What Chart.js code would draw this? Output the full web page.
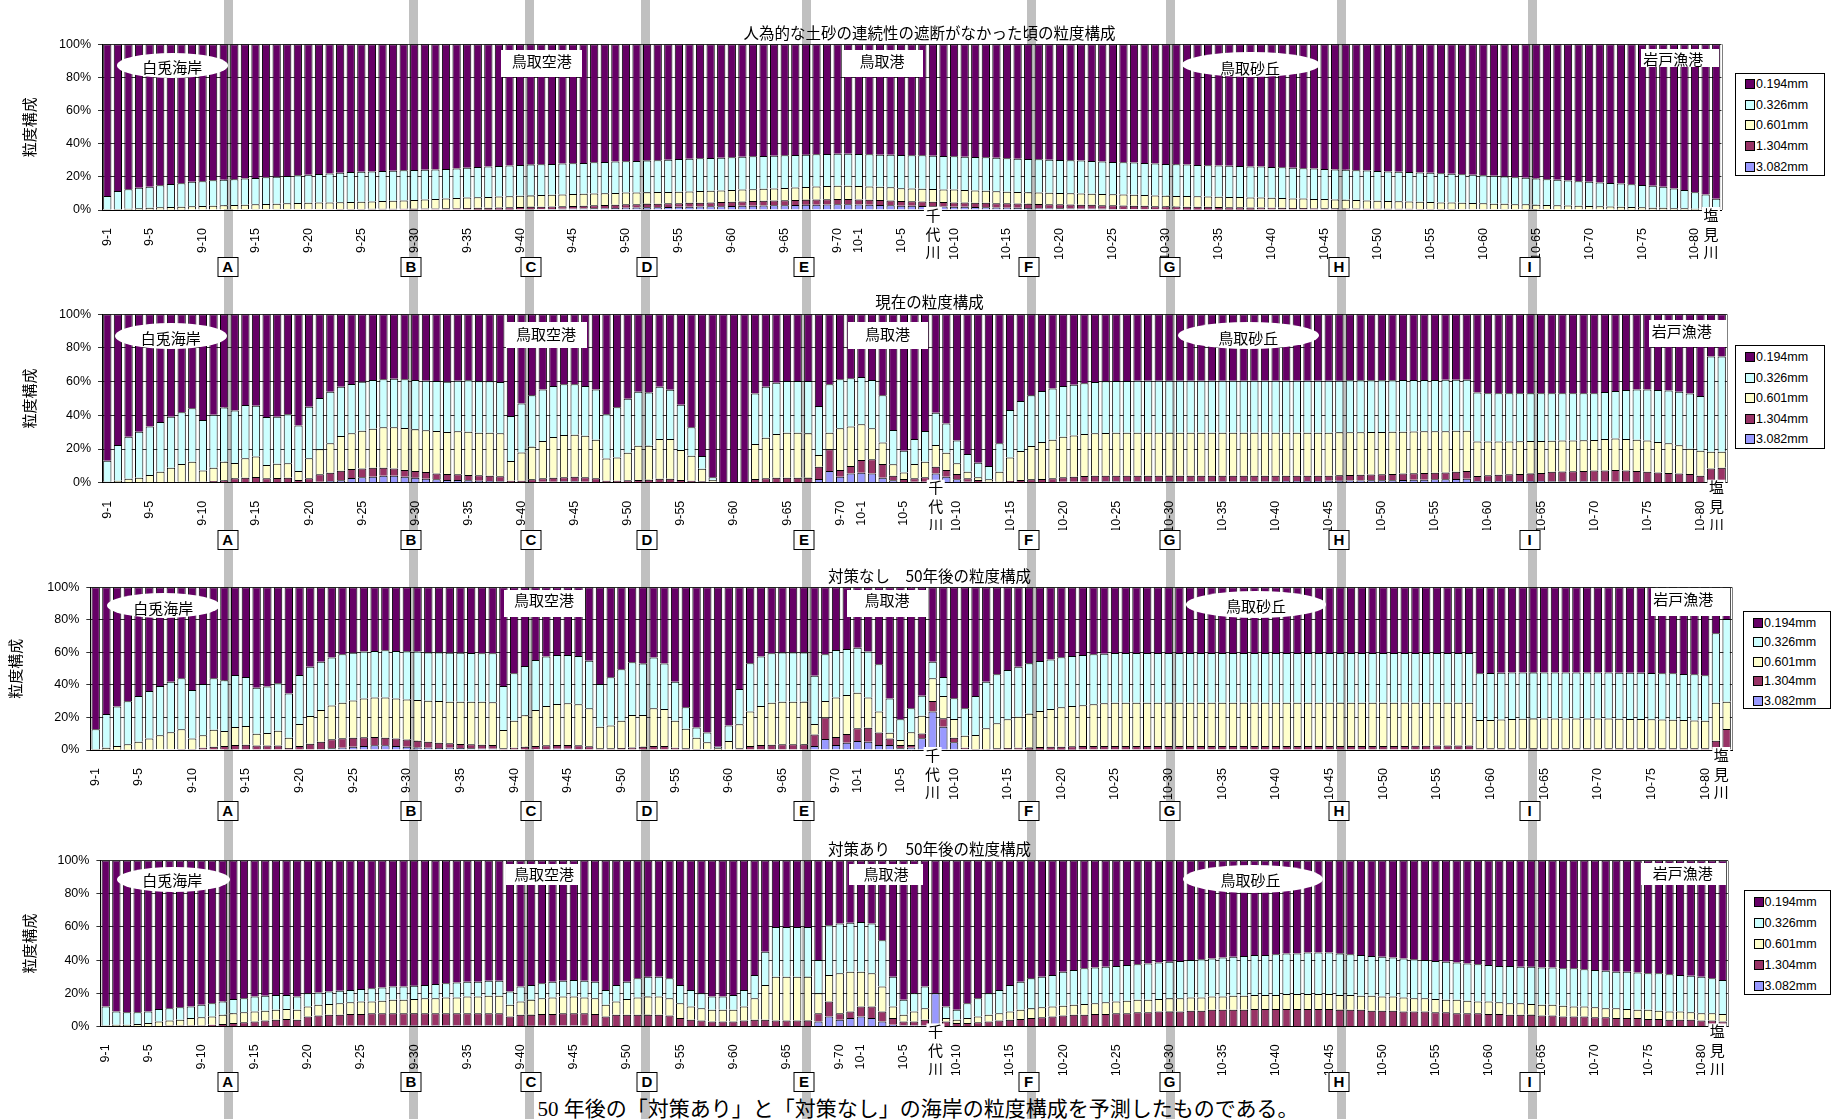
<!DOCTYPE html>
<html>
<head>
<meta charset="utf-8">
<script src="https://cdn.jsdelivr.net/npm/chart.js@4.4.1/dist/chart.umd.min.js"></script>
<style>
  html, body { margin: 0; padding: 0; background: #fff; }
  #page { position: relative; width: 1831px; height: 1119px; overflow: hidden; background: #fff; }
  .band { position: absolute; top: 0; height: 1119px; width: 9px; background: #c0c0c0; z-index: 0; }
  canvas.plot { position: absolute; left: 0; z-index: 1; }
  .shape { position: absolute; background: #fff; z-index: 2; }
  .shape.ellipse { border-radius: 50%; }
  .anno { position: absolute; z-index: 3; transform: translate(-50%, -50%); white-space: nowrap;
          font: 15px "Noto Sans CJK JP", sans-serif; color: #000; line-height: 1; }
  .legend { position: absolute; z-index: 2; background: #fff; border: 1px solid #000; box-sizing: border-box;
            font: 12.5px "Liberation Sans", Arial, sans-serif; color: #000; }
  .legend .row { position: absolute; left: 9px; height: 14px; line-height: 14px; transform: translateY(-50%); white-space: nowrap; }
  .legend .sw { display: inline-block; width: 8px; height: 8px; border: 1px solid #000; vertical-align: -1px; margin-right: 1px; }
  .mark { position: absolute; z-index: 3; width: 21px; height: 20px; box-sizing: border-box; border: 1px solid #000; background: #fff;
          font: bold 15px "Liberation Sans", Arial, sans-serif; text-align: center; line-height: 18px; transform: translate(-50%, -50%); }
  .caption { position: absolute; z-index: 3; left: 918px; top: 1107px; transform: translate(-50%, -50%); white-space: nowrap;
             font: 21px "Liberation Serif", "Noto Sans CJK JP", serif; color: #000; }
</style>
</head>
<body>
<div id="page"></div>
<script>
// ---- categories (survey lines along the coast) ----
const categories = [
  '9-1','9-2','9-3','9-4','9-5','9-6','9-7','9-8','9-9','9-10',
  '9-11','9-12','9-13','9-14','9-15','9-16','9-17','9-18','9-19','9-20',
  '9-21','9-22','9-23','9-24','9-25','9-26','9-27','9-28','9-29','9-30',
  '9-31','9-32','9-33','9-34','9-35','9-36','9-37','9-38','9-39','9-40',
  '9-41','9-42','9-43','9-44','9-45','9-46','9-47','9-48','9-49','9-50',
  '9-51','9-52','9-53','9-54','9-55','9-56','9-57','9-58','9-59','9-60',
  '9-61','9-62','9-63','9-64','9-65','9-66','9-67','9-68','9-69','9-70','9-71',
  '10-1','10-2','10-3','10-4','10-5','10-6','10-7','10-8','10-9','10-10',
  '10-11','10-12','10-13','10-14','10-15','10-16','10-17','10-18','10-19','10-20',
  '10-21','10-22','10-23','10-24','10-25','10-26','10-27','10-28','10-29','10-30',
  '10-31','10-32','10-33','10-34','10-35','10-36','10-37','10-38','10-39','10-40',
  '10-41','10-42','10-43','10-44','10-45','10-46','10-47','10-48','10-49','10-50',
  '10-51','10-52','10-53','10-54','10-55','10-56','10-57','10-58','10-59','10-60',
  '10-61','10-62','10-63','10-64','10-65','10-66','10-67','10-68','10-69','10-70',
  '10-71','10-72','10-73','10-74','10-75','10-76','10-77','10-78','10-79','10-80','10-81','10-82'
];

// categories whose name is printed under the axis
const tickLabels = [
  '9-1','9-5','9-10','9-15','9-20','9-25','9-30','9-35','9-40','9-45','9-50','9-55','9-60','9-65','9-70',
  '10-1','10-5','10-10','10-15','10-20','10-25','10-30','10-35','10-40','10-45','10-50','10-55','10-60',
  '10-65','10-70','10-75','10-80'
];

const grainSizes = ['0.194mm','0.326mm','0.601mm','1.304mm','3.082mm'];

// Each chart: upper edge (%) of each band, coarsest band first.
// xxx3082 = top of 3.082mm band, xxx1304 = top of 1.304mm band, etc.; 0.194mm fills up to 100%.

// -- before sediment supply was cut off --
const pre3082 = [
  0,0,0,0,0,0,0,0,0,0, 0,0,0,0,0,0,0,0,0,0, 0,0,0,0,0,0,0,0,0,0,
  0,0,0,0,0,0.1,0.1,0.2,0.2,0.3, 0.4,0.5,0.6,0.7,0.8,0.9,1,1.1,1.2,1.4,
  1.5,1.6,1.7,1.8,1.9,2,2.1,2.2,2.3,2.4, 2.5,2.6,2.7,2.8,2.9,3,3.1,3.2,3.3,3.4,3.4,
  3.3,3.2,3,2.8,2.6,2.5,2.4,2.2,2.1,2, 1.9,1.8,1.6,1.5,1.4,1.3,1.2,1.1,1.1,1,
  0.9,0.8,0.8,0.7,0.6,0.5,0.5,0.4,0.4,0.3, 0.3,0.2,0.2,0.2,0.1,0.1,0.1,0.1,0,0,
  0,0,0,0,0,0,0,0,0,0, 0,0,0,0,0,0,0,0,0,0, 0,0,0,0,0,0,0,0,0,0,
  0,0,0,0,0,0,0,0,0,0,0,0
];
const pre1304 = [
  0.1,0.1,0.1,0.1,0.2,0.2,0.2,0.2,0.3,0.3, 0.3,0.3,0.3,0.4,0.4,0.4,0.4,0.4,0.5,0.5,
  0.5,0.5,0.6,0.6,0.6,0.7,0.7,0.7,0.8,0.8, 0.9,0.9,1,1.1,1.2,1.3,1.4,1.5,1.6,1.8,
  1.9,2,2.1,2.3,2.4,2.6,2.8,3,3.2,3.4, 3.5,3.7,3.8,4,4.1,4.3,4.4,4.6,4.8,5,
  5.2,5.4,5.6,5.7,5.9,6,6.2,6.3,6.5,6.6,6.6,
  6.4,6.2,6,5.8,5.4,5.3,5.1,5,4.8,4.6, 4.5,4.4,4.3,4.1,4,3.9,3.8,3.6,3.5,3.4,
  3.3,3.2,3.1,2.9,2.8,2.7,2.6,2.5,2.3,2.2, 2.1,2,1.9,1.9,1.8,1.7,1.6,1.5,1.5,1.4,
  1.3,1.2,1.2,1.1,1,1,0.9,0.9,0.8,0.8, 0.7,0.7,0.7,0.6,0.6,0.6,0.6,0.5,0.5,0.5,
  0.5,0.4,0.4,0.4,0.4,0.4,0.3,0.3,0.3,0.3, 0.3,0.3,0.2,0.2,0.2,0.2,0.2,0.1,0.1,0.1,0.1,0.1
];
const pre0601 = [
  0.3,0.5,0.7,1,1.4,1.6,1.8,2,2.2,2.4, 2.6,2.8,3,3.2,3.4,3.6,3.8,4,4.2,4.4,
  4.5,4.6,4.7,4.8,5,5.2,5.4,5.6,5.8,6, 6.3,6.6,7,7.3,7.5,7.7,7.9,8.1,8.3,8.6,
  8.8,9,9.2,9.4,9.6,9.8,10,10.1,10.3,10.5, 10.6,10.7,10.8,10.9,11,11.2,11.4,11.6,11.8,12,
  12.3,12.5,12.8,13,13.3,13.6,13.9,14.2,14.5,14.7,14.7,
  14.5,14.2,14,13.7,13.2,13,12.8,12.6,12.4,12.3, 12.1,11.8,11.6,11.3,11,10.9,10.7,10.6,10.4,10.3,
  10.1,10,9.8,9.7,9.5,9.3,9.2,9,8.8,8.6, 8.5,8.4,8.3,8.1,8,7.9,7.8,7.6,7.5,7.4,
  7.2,7,6.9,6.7,6.6,6.4,6.2,6,5.8,5.6, 5.4,5.3,5.1,5,4.8,4.6,4.5,4.3,4.2,4,
  3.8,3.7,3.5,3.4,3.2,3,2.9,2.7,2.6,2.4, 2.2,2.1,1.9,1.8,1.6,1.4,1.3,1.1,1,0.8,0.6,0.4
];
const pre0326 = [
  8.5,11.5,12.5,13.5,14,15,15.7,16.2,17,17.3, 18,18.3,18.6,19,19.3,19.7,20,20.5,21,21.3,
  21.7,22,22.5,23,23.1,23.3,23.5,23.7,24,24.1, 24.3,24.5,24.7,25,25.5,26,26.2,26.5,26.8,27.2,
  27.4,27.6,27.8,28,28.2,28.4,28.8,29,29.2,29.4, 29.6,29.8,30,30.4,30.8,31,31.2,31.4,31.6,31.8,
  32.2,32.4,32.6,32.8,33,33.2,33.4,33.6,33.8,34,34,
  33.8,33.6,33.4,33.3,33.2,33.1,33,32.8,32.6,32.4, 32.2,32,31.8,31.5,31.2,31,30.8,30.6,30.4,30.2,
  30,29.8,29.5,29.3,29,28.8,28.6,28.4,28.1,27.8, 27.6,27.4,27.2,27,26.8,26.7,26.5,26.3,26.2,26,
  25.8,25.5,25.2,25,24.7,24.5,24.3,24,23.8,23.5, 23.3,23.1,22.9,22.7,22.5,22.2,21.9,21.6,21.3,21,
  20.6,20.2,19.8,19.4,19,18.6,18.2,17.8,17.4,17, 16.6,16.3,16,15.5,15.1,14.7,14,13,12,10.7,9.3,6.8
];

// -- present --
const now3082 = [
  0,0,0,0,0,0,0,0,0,0, 0,0,0,0,0,0,0,0,0,0,
  0.5,1,1.5,2.8,3.2,3.6,4.2,4.2,3.6,3, 2.4,2,1.6,1.6,1.4,1.2,1,0.8,0,0,
  0.4,0.6,0.6,0.8,0.8,0.6,0.2,0,0,0, 0,0,0,0,0,0,0,0,0,0,
  0,0,0,0,0,0,0,2.2,6.9,3.6,5.5,
  5.9,5.5,3,1.5,0.4,0.5,0.5,5.5,3.6,2, 0.5,0,0,0,0,0,0.2,0.3,0.4,0.5,
  0.5,0.6,0.6,0.8,0.8,0.8,0.8,0.8,0.8,0.8, 0.8,0.8,0.8,0.8,0.9,0.9,0.9,0.9,0.9,0.9,
  1,1,1,1,1.2,1.2,1.3,1.3,1.4,1.4, 1.5,1.6,1.7,1.8,2,2.1,2.2,2.4,1,1,
  1,1,1,1,1,0.9,0.9,0.9,0.8,0.8, 0.6,0.5,0.5,0.4,0.4,0.3,0.3,0.2,0.2,0.1,0,0
];
const now1304 = [
  0.3,0.3,0.3,0.3,0.3,0.4,0.4,0.5,0.6,0.5, 1,1.5,2.6,3,3.4,2.6,2.8,3,1.6,2.6,
  5,5.9,7.1,8.1,8.5,8.9,8.9,8.5,7.5,6.9, 6.3,5.5,5.1,5,4.6,4.4,4.2,3.8,1.2,1.2,
  2,2.6,3,3.2,3.6,3.2,2.6,1.2,1.2,1.4, 1.6,1.8,2.4,2.4,1.6,1.2,0.8,0.6,0,0,
  0,2.2,2.6,3,3,3,3,9.5,19.8,7.5,9.9,
  13.5,13.9,11.1,4.2,2.2,2.6,3.2,9.5,7.5,5.1, 2.6,1.6,0.5,0.5,1,1.6,2,2.2,2.6,3.2,
  3.6,4,4.2,4.2,4.2,4.2,4.2,4.2,4.2,4.2, 4.2,4.2,4.2,4.2,4.2,4.2,4.2,4.2,4.2,4.2,
  4.2,4.2,4.2,4.2,4.2,4.4,4.5,4.7,4.8,5, 5.2,5.4,5.6,5.8,5.9,6.1,6.5,6.9,4,4.4,
  4.7,5,5.2,5.5,5.7,6.5,6.6,6.8,7,7.3, 7.3,7.5,7.3,6.9,6.5,6.1,5.7,5.5,5.1,4.2,8.5,8.9
];
const now0601 = [
  0.5,1.2,2.4,3,4.6,6.5,8.9,11.1,12.5,7.3, 8.9,12.5,11.7,14.5,15.6,10.5,11.3,11.5,6.9,14.5,
  19.8,23.4,27.7,29.3,30.9,32,32.9,32.9,32.5,31.7, 31.1,30.7,30.1,30.5,30.3,29.7,29.7,29.3,12.9,18,
  21.4,24.8,27.1,28.3,28.5,27.9,25.5,14.3,15,17.8, 22,22,25.9,25.9,19.4,16,8.3,1.6,0,0,
  0,23,26.7,28.9,29.7,29.7,29.3,16.4,29.7,32.3,33.3,
  34.7,32.3,23.8,10.9,6.1,11.1,12.5,22.4,17.8,11.5, 6.5,3.2,2,6.5,14.9,18.8,21.8,24.2,25.5,27.3,
  28.1,28.9,29.3,29.5,29.7,29.7,29.7,29.7,29.7,29.7, 29.7,29.7,29.7,29.7,29.7,29.7,29.7,29.7,29.7,29.7,
  29.7,29.7,29.7,29.7,29.7,29.9,30,30,30.1,30.1, 30.2,30.3,30.4,30.5,30.5,30.6,30.8,30.9,24.4,24.4,
  24.4,24.5,24.6,24.7,24.8,24.9,25,25.1,25.2,25.3, 25.9,26.3,25.9,25.5,25,24.2,23.4,22.2,20.2,19,18.4,18.4
];
const now0326 = [
  13,22.4,27.3,30.3,33.3,36,39.2,41.8,44.2,37.2, 40.4,44.6,42.8,46.1,45.7,39,39.2,40.6,34,45.1,
  50.3,54,57,58.6,60,61,61.4,61.8,61.4,61, 60.6,60.4,60,60.6,60.8,60.2,60.2,59.8,39.6,47.1,
  51.9,55.4,57.4,58.4,58.4,57.4,55.4,40.6,44.8,49.9, 54,53.5,57,55.2,46.3,33,15.8,3.2,0,0,
  0,53,57,59.4,60.4,60.4,60.4,45.5,58.4,61.4,62,
  62.8,61,51.9,31.3,19,25.9,30.7,41.6,35.2,25, 17,11.9,9.9,23.4,43.2,48.5,51.9,54.5,56,57.4,
  58.2,59,59.8,60.2,60.4,60.4,60.6,60.6,60.6,60.6, 60.6,60.6,60.6,60.6,60.6,60.6,60.6,60.6,60.6,60.6,
  60.6,60.6,60.6,60.6,60.6,60.6,60.8,60.8,60.8,60.8, 60.8,61,61,61,61,61.2,61.2,61.2,53.5,53.1,
  53.1,53.1,53.1,53.1,53.1,53.1,53.1,53.1,53.1,53.1, 53.9,54.5,55,55.4,55.4,55,54.7,54,53,51.5,74.9,74.9
];

// -- 50 years later, no countermeasures --
const noact3082 = [
  0,0,0,0,0,0,0,0,0,0, 0,0,0,0,0,0,0,0,0,0,
  0.3,0.6,1,1.4,2,2.5,2.9,2.9,2.5,2, 1.6,1.4,1.2,1.4,1.2,1,0.8,0.8,0,0,
  0.3,0.5,0.6,0.8,0.8,0.6,0.3,0,0,0, 0,0,0,0,0,0,0,0,0,0,
  0,0,0,0,0,0,0,2.5,6.8,3.1,4.5,
  5.5,5.1,3.1,3,1,1.4,7.2,23.6,14.3,4.7, 0.5,0,0,0,0,0,0.1,0.1,0.2,0.2,
  0.2,0.3,0.3,0.3,0.3,0.3,0.3,0.3,0.3,0.3, 0.3,0.3,0.3,0.3,0.3,0.3,0.3,0.3,0.3,0.3,
  0.3,0.3,0.3,0.3,0.3,0.3,0.3,0.3,0.3,0.3, 0.3,0.3,0.3,0.3,0.3,0.3,0.3,0.3,0,0,
  0,0,0,0,0,0,0,0,0,0, 0,0,0,0,0,0,0,0,0,0,0,0
];
const noact1304 = [
  0.1,0.2,0.2,0.2,0.2,0.2,0.3,0.5,0.6,0.6, 1.4,2,2.5,3.1,3.3,2.7,2.7,2.7,1.2,2.5,
  3.9,5.1,6.6,7.2,7.6,7.8,8,7.6,7,6.4, 5.7,5.1,4.5,4.1,3.7,3.5,3.3,3.1,1,1.4,
  2,2.5,2.9,3.1,3.1,2.9,2.3,1,1,1.2, 1.6,2,2.5,2.5,1.4,1,0.6,0.4,0.2,0.3,
  1,2.5,3.1,3.3,3.5,3.5,3.5,9.6,19.9,8,9.8,
  13.3,13.7,10.7,7,3.1,3.1,10.2,30.1,19.5,7.6, 1.4,0.6,0.6,1,1.2,1.4,1.6,1.8,2,2,
  2.3,2.5,2.5,2.5,2.5,2.5,2.5,2.5,2.5,2.5, 2.5,2.5,2.5,2.5,2.5,2.5,2.5,2.5,2.5,2.5,
  2.5,2.5,2.5,2.5,2.4,2.4,2.4,2.4,2.4,2.4, 2.5,2.5,2.6,2.6,2.7,2.7,2.7,2.7,1,1,
  1,1,1,1,1,1,1,1,1,1, 1,1,1,1,1,1,1,1,1,1,5.7,12.9
];
const noact0601 = [
  0.4,1.4,2.5,3.5,5.1,7,9,10.9,12.7,7, 9,12.5,11.7,14.1,14.8,10,10.5,11.9,7.6,16,
  20.9,24.6,27.3,29.1,30.5,31.6,32.2,32.2,31.6,31.1, 30.7,30.3,30.1,29.7,29.7,29.7,29.7,29.3,12.3,18,
  21.3,24.6,27,28.3,28.7,28.1,25.6,14.3,15,18, 21.5,21.5,25.6,25.2,18,13.1,7.6,4.7,1,5.5,
  15.8,23.6,27,29.1,29.7,29.7,29.7,16,30.1,32.2,33.8,
  35.2,32.2,23.6,10.6,6.1,10.9,21.1,44.1,33.2,19.1, 8.8,9.2,13.3,16.4,18.9,20.5,22.3,24,25.2,26.2,
  27,27.5,28.1,28.7,29.1,29.1,29.1,29.1,29.1,29.1, 29.1,29.1,29.1,29.1,29.1,29.1,29.1,29.1,29.1,29.1,
  29.1,29.1,29.1,29.1,29.1,29.1,29.1,29.1,29.1,29.1, 29.1,29.1,29.1,29.1,29.1,29.1,29.1,29.1,18.4,18.4,
  18.8,19.1,19.2,19.3,19.3,19.3,19.3,19.3,19.3,19.3, 19.3,19.2,19.1,19,18.9,18.8,18.6,18.4,18.2,18,29.1,29.7
];
const noact0326 = [
  12.7,22.1,26.8,29.9,33.2,36.3,39.3,42,44.1,36.9, 40.6,44.1,42.8,46.1,44.9,38.3,39.1,41,34.8,46.1,
  51.2,54.3,56.8,58.8,59.8,60.5,60.9,61.3,60.9,60.7, 60.5,60,60,59.8,59.8,59.6,59.4,59.4,39.3,47.1,
  51.6,55.3,57.4,58.4,58.4,57.8,54.9,40.6,44.7,49.6, 53.9,53.1,56.8,53.1,42,26.2,13.9,10.7,2,15,
  37.5,53.3,57.4,59.4,60,60,60,45.7,58.8,61.5,62.1,
  62.9,60.5,52.7,31.6,18.9,25.6,33.4,54.3,44.9,31.8, 25.6,33.2,42,46.5,49.2,51.2,53.3,54.7,55.7,57,
  57.8,58.4,58.8,59.2,59.6,59.6,59.6,59.6,59.6,59.6, 59.6,59.6,59.6,59.6,59.6,59.6,59.6,59.6,59.6,59.6,
  59.6,59.6,59.6,59.6,59.6,59.6,59.6,59.6,59.6,59.6, 59.6,59.6,59.6,59.6,59.6,59.6,59.6,59.6,47.1,47.3,
  47.5,47.7,47.7,47.7,47.7,47.7,47.7,47.7,47.7,47.7, 47.7,47.5,47.5,47.5,47.3,47.1,47.1,46.7,46.5,45.9,71.7,80.5
];

// -- 50 years later, with countermeasures --
const act3082 = [
  0,0,0,0,0,0,0,0,0,0, 0,0,0,0,0,0,0,0,0,0,
  0.3,0.3,0.4,0.4,0.5,0.5,0.5,0.5,0.5,0.5, 0.5,0.5,0.5,0.5,0.5,0.5,0.5,0.5,0.3,0.3,
  0.4,0.4,0.5,0.5,0.5,0.4,0.3,0,0,0, 0,0,0,0,0,0,0,0,0,0,
  0,0,0,0,0,0,0,3,6,4,5,
  6,5,3,1,0.5,0.5,0.5,20,0,0, 0,0,0,0,0,0,0,0,0,0,
  0,0,0,0,0,0,0,0,0,0, 0,0,0,0,0,0,0,0,0,0,
  0,0,0,0,0,0,0,0,0,0, 0,0,0,0,0,0,0,0,0,0,
  0,0,0,0,0,0,0,0,0,0, 0,0,0,0,0,0,0,0,0,0,0,0
];
const act1304 = [
  0.2,0.2,0.2,0.3,0.3,0.3,0.5,0.5,0.5,0.5, 1,1.5,2,2.5,3,3.5,4,4.5,4,6,
  6.5,7,7,7.5,7.5,8,8,8,8,8, 8,8,8,8,8,8,8,8,6,7,
  7,7.5,7.5,8,8,8,7.5,6,7,7, 7,7,7,6.5,5,4,3.5,3,3,3,
  3.5,4,4,3.5,3.5,3.5,3.5,8,15,8,9,
  12,12,9,5,3,3,4,20,3,2, 2,2.5,3,3.5,4,4.5,5,5.5,6,6.5,
  7,7,7.5,7.5,8,8,8.5,8.5,9,9, 9,9.5,9.5,10,10,10,10,10.5,10.5,10.5,
  10.5,10.5,10.5,10.5,10.5,10,10,10,9.5,9.5, 9.5,9,9,9,8.5,8.5,8,8,8,7.5,
  7.5,7,7,7,6.5,6.5,6,6,6,5.5, 5.5,5,5,5,4.5,4.5,4,4,4,3.5,3.5,3
];
const act0601 = [
  0.5,1,1,1.5,2,3,3.5,4,5,5.5, 6,7,8,8.5,9,9.5,10,10.5,10,12,
  13,13.5,14,14.5,15,15,15.5,16,16,16.5, 17,17,17.5,17.5,18,18,18.5,18.5,13,15,
  16,17,17.5,18,18,17.5,17,13,15,16.5, 17.5,18,18,17,14,12,11,10,10,10,
  12,17,25,30,30,30,30,20,31,32,33,
  33,32,24,12,7,9,11,20,5,4, 5,6,7,8,9,10,11,11.5,12,12.5,
  13,13.5,14,14.5,15,15.5,16,16,16.5,17, 17,17.5,17.5,18,18,18.5,18.5,19,19,19,
  19.5,19.5,19.5,19.5,19.5,19,19,18.5,18.5,18, 18,17.5,17,17,16.5,16,16,15.5,15,15,
  14.5,14,14,13.5,13,13,12.5,12,12,11.5, 11,11,10.5,10,10,9.5,9,9,8.5,8,8,7.5
];
const act0326 = [
  12,9,8.5,8.5,9,10.5,11,11.5,12,13, 14,15,16.5,17,18,18.5,19,19,18,20,
  20.5,21,21.5,22,22.5,23,23.5,24,24,24.5, 25,25.5,26,26.5,27,27,27.5,27.5,21,24,
  25,26,27,27.5,28,27.5,27,22,25,27, 29,30,30,29,25,22,20,18,18,19,
  22,31,45,60,60,60,60,40,61,62,62.5,
  63,62,52,30,16,20,24,20,12,10, 14,17,20,22,25,27,29,30,31,33,
  34,35,35.5,36,36.5,37,37.5,38,38.5,39, 39.5,40,40.5,41,41.5,42,42.5,43,43,43.5,
  44,44,44.5,44.5,44.5,44,43.5,43,42.5,42, 41.5,41,40.5,40,39.5,39,38.5,38,37.5,37,
  36.5,36.5,36,36,35.5,35.5,35,35,34.5,34, 33.5,33,33,32.5,32,32,31.5,31,30.5,30,29,28
];

// ---- styling / layout ----
const FILL = { '0.194mm':'#660066', '0.326mm':'#ccffff', '0.601mm':'#ffffcc', '1.304mm':'#993366', '3.082mm':'#9999ff' };
const JP = '"Noto Sans CJK JP", sans-serif';
const LAT = '"Liberation Sans", Arial, sans-serif';

const panels = [
  { title:'人為的な土砂の連続性の遮断がなかった頃の粒度構成', edges:[pre3082, pre1304, pre0601, pre0326],
    top:20, height:240, plotTop:44.3, plotBottom:210, plotLeft:102, plotRight:1721.5, titleY:33, yTitleX:29,
    legend:{x:1735, y:72.7, w:90, h:103, first:10.6, step:20.6}, markY:267,
    annos:[
      {t:'白兎海岸', s:'ellipse', x:116.7, y:53.3, w:111.6, h:24.4, tx:172.3, ty:65.7},
      {t:'鳥取空港', s:'rect', x:501, y:50, w:80.7, h:26.7, tx:541.7, ty:60},
      {t:'鳥取港', s:'rect', x:843.3, y:50, w:80, h:27, tx:882, ty:60},
      {t:'鳥取砂丘', s:'ellipse', x:1181.7, y:51.7, w:138.3, h:25.6, tx:1250, ty:66.7},
      {t:'岩戸漁港', s:'rect', x:1640.7, y:49.3, w:78.3, h:17.4, tx:1673.3, ty:58.3}
    ]},
  { title:'現在の粒度構成', edges:[now3082, now1304, now0601, now0326],
    top:290, height:240, plotTop:314.3, plotBottom:482.7, plotLeft:102, plotRight:1727, titleY:302.5, yTitleX:29,
    legend:{x:1735, y:345, w:90, h:104, first:11, step:20.6}, markY:540,
    annos:[
      {t:'白兎海岸', s:'ellipse', x:115, y:323.3, w:111.7, h:26, tx:170.7, ty:336.7},
      {t:'鳥取空港', s:'rect', x:506, y:321.7, w:80.7, h:26.6, tx:546, ty:332.7},
      {t:'鳥取港', s:'rect', x:848, y:321.7, w:80, h:27.3, tx:887.5, ty:332.7},
      {t:'鳥取砂丘', s:'ellipse', x:1177.7, y:322.3, w:141.6, h:27, tx:1248.3, ty:336.7},
      {t:'岩戸漁港', s:'rect', x:1649, y:320, w:77, h:27.3, tx:1681.7, ty:330}
    ]},
  { title:'対策なし　50年後の粒度構成', edges:[noact3082, noact1304, noact0601, noact0326],
    top:560, height:240, plotTop:587.3, plotBottom:750, plotLeft:90.3, plotRight:1732, titleY:576, yTitleX:15,
    legend:{x:1743, y:610.7, w:88, h:98.3, first:11, step:19.6}, markY:811,
    annos:[
      {t:'白兎海岸', s:'ellipse', x:106.7, y:593.3, w:113.3, h:25, tx:163.3, ty:607.3},
      {t:'鳥取空港', s:'rect', x:504, y:590, w:80, h:26.7, tx:544, ty:599},
      {t:'鳥取港', s:'rect', x:846.7, y:590, w:80, h:27, tx:887, ty:599},
      {t:'鳥取砂丘', s:'ellipse', x:1186, y:591, w:140, h:26.7, tx:1256, ty:605},
      {t:'岩戸漁港', s:'rect', x:1651, y:587.7, w:79, h:28, tx:1683.3, ty:598.3}
    ]},
  { title:'対策あり　50年後の粒度構成', edges:[act3082, act1304, act0601, act0326],
    top:835, height:240, plotTop:860.6, plotBottom:1026.4, plotLeft:100.4, plotRight:1728, titleY:849, yTitleX:29,
    legend:{x:1743.5, y:889.8, w:87.5, h:105.2, first:11.5, step:21}, markY:1082,
    annos:[
      {t:'白兎海岸', s:'ellipse', x:116.8, y:866.5, w:113.2, h:25.5, tx:172.2, ty:879.3},
      {t:'鳥取空港', s:'rect', x:505.6, y:864, w:74.8, h:21, tx:544, ty:873.4},
      {t:'鳥取港', s:'rect', x:849, y:864, w:73.5, h:21, tx:886, ty:873.4},
      {t:'鳥取砂丘', s:'ellipse', x:1183, y:865, w:140, h:28, tx:1250.6, ty:879.3},
      {t:'岩戸漁港', s:'rect', x:1640.6, y:863, w:85.4, h:22, tx:1682.7, ty:872.3}
    ]}
];

const sections = ['A','B','C','D','E','F','G','H','I'];
const bandX = [228, 413, 529.5, 645.5, 806, 1031.5, 1170.5, 1341, 1532];
const markX = [227.7, 411, 531, 647, 804, 1028.5, 1169.5, 1339, 1529.5];
const TITLE_X = 929.5;

const page = document.getElementById('page');

// section guide bands running down the whole sheet
bandX.forEach(x => {
  const d = document.createElement('div');
  d.className = 'band';
  d.style.left = (x - 4.5) + 'px';
  page.appendChild(d);
});

// draws the chart title, right frame edge and the river names under the axis
const decorPlugin = {
  id: 'decor',
  afterDraw(chart, args, opts) {
    const { ctx, chartArea, scales } = chart;
    ctx.save();
    ctx.strokeStyle = '#808080';
    ctx.lineWidth = 1;
    ctx.beginPath();
    ctx.moveTo(Math.round(chartArea.right) + 0.5, chartArea.top);
    ctx.lineTo(Math.round(chartArea.right) + 0.5, chartArea.bottom);
    ctx.stroke();

    ctx.fillStyle = '#000';
    ctx.font = '15.5px ' + JP;
    ctx.textAlign = 'center';
    ctx.textBaseline = 'middle';
    ctx.fillText(opts.title, opts.titleX, opts.titleY);

    const x = scales.x;
    const stack = (txt, cx) => {
      const y0 = chartArea.bottom;
      ctx.fillStyle = '#fff';
      ctx.fillRect(cx - 9, y0 - 3, 18, 54);
      ctx.fillStyle = '#000';
      ctx.font = '15px ' + JP;
      [...txt].forEach((ch, k) => ctx.fillText(ch, cx, y0 + 5 + k * 18.8));
    };
    stack('千代川', x.getPixelForValue(categories.indexOf('10-8')));
    const a = x.getPixelForValue(categories.indexOf('10-81'));
    const b = x.getPixelForValue(categories.indexOf('10-82'));
    stack('塩見川', (a + b) / 2);
    ctx.restore();
  }
};

const shown = new Set(tickLabels);

panels.forEach(p => {
  const cv = document.createElement('canvas');
  cv.className = 'plot';
  cv.width = 1831;
  cv.height = p.height;
  cv.style.top = p.top + 'px';
  cv.style.width = '1831px';
  cv.style.height = p.height + 'px';
  page.appendChild(cv);

  // floating bars [lower edge, upper edge] per grain size, coarsest at the bottom
  const lower = [categories.map(() => 0), p.edges[0], p.edges[1], p.edges[2], p.edges[3]];
  const upper = [p.edges[0], p.edges[1], p.edges[2], p.edges[3], categories.map(() => 100)];
  const order = ['3.082mm','1.304mm','0.601mm','0.326mm','0.194mm'];
  const datasets = order.map((name, k) => ({
    label: name,
    data: lower[k].map((lo, i) => [lo, upper[k][i]]),
    backgroundColor: FILL[name],
    borderColor: '#000',
    borderWidth: { top: 1, left: 1, right: 1, bottom: 0 },
    borderSkipped: false,
    grouped: false,
    barPercentage: 0.78,
    categoryPercentage: 1,
    inflateAmount: 0
  }));

  const plotTopRel = p.plotTop - p.top;
  const xAxisHeight = p.height - (p.plotBottom - p.top);
  const yTitleSize = 15;

  new Chart(cv, {
    type: 'bar',
    data: { labels: categories, datasets },
    plugins: [decorPlugin],
    options: {
      responsive: false,
      animation: false,
      devicePixelRatio: 1,
      layout: { padding: { top: plotTopRel, right: 1831 - p.plotRight, left: 0, bottom: 0 } },
      plugins: {
        legend: { display: false },
        tooltip: { enabled: false },
        decor: { title: p.title, titleX: TITLE_X, titleY: p.titleY - p.top }
      },
      scales: {
        x: {
          grid: { display: false },
          border: { display: true, color: '#000', width: 1 },
          ticks: {
            autoSkip: false, maxRotation: 90, minRotation: 90, padding: 10,
            color: '#000', font: { family: LAT, size: 12.5 },
            callback: (v, i) => shown.has(categories[i]) ? categories[i] : ''
          },
          afterFit: s => { s.height = xAxisHeight; }
        },
        y: {
          min: 0, max: 100,
          grid: { color: '#333', lineWidth: 1, tickLength: 4, drawTicks: true },
          border: { display: true, color: '#000', width: 1 },
          ticks: { stepSize: 20, padding: 7, color: '#000', font: { family: LAT, size: 12.5 }, callback: v => v + '%' },
          title: { display: true, text: '粒度構成', color: '#000', font: { family: JP, size: yTitleSize },
                   padding: { top: p.yTitleX - yTitleSize * 0.6, bottom: 0 } },
          afterFit: s => { s.width = p.plotLeft; }
        }
      }
    }
  });

  // place names over the plot
  p.annos.forEach(a => {
    const sh = document.createElement('div');
    sh.className = 'shape' + (a.s === 'ellipse' ? ' ellipse' : '');
    Object.assign(sh.style, { left: a.x + 'px', top: a.y + 'px', width: a.w + 'px', height: a.h + 'px' });
    page.appendChild(sh);
    const t = document.createElement('div');
    t.className = 'anno';
    t.textContent = a.t;
    Object.assign(t.style, { left: a.tx + 'px', top: a.ty + 'px' });
    page.appendChild(t);
  });

  // legend box
  const lg = document.createElement('div');
  lg.className = 'legend';
  Object.assign(lg.style, { left: p.legend.x + 'px', top: p.legend.y + 'px', width: p.legend.w + 'px', height: p.legend.h + 'px' });
  grainSizes.forEach((g, k) => {
    const r = document.createElement('div');
    r.className = 'row';
    r.style.top = (p.legend.first + k * p.legend.step) + 'px';
    const sw = document.createElement('span');
    sw.className = 'sw';
    sw.style.background = FILL[g];
    r.appendChild(sw);
    r.appendChild(document.createTextNode(g));
    lg.appendChild(r);
  });
  page.appendChild(lg);

  // section letters
  sections.forEach((s, k) => {
    const m = document.createElement('div');
    m.className = 'mark';
    m.textContent = s;
    Object.assign(m.style, { left: markX[k] + 'px', top: p.markY + 'px' });
    page.appendChild(m);
  });
});

const cap = document.createElement('div');
cap.className = 'caption';
cap.textContent = '50 年後の「対策あり」と「対策なし」の海岸の粒度構成を予測したものである。';
page.appendChild(cap);
</script>
</body>
</html>
